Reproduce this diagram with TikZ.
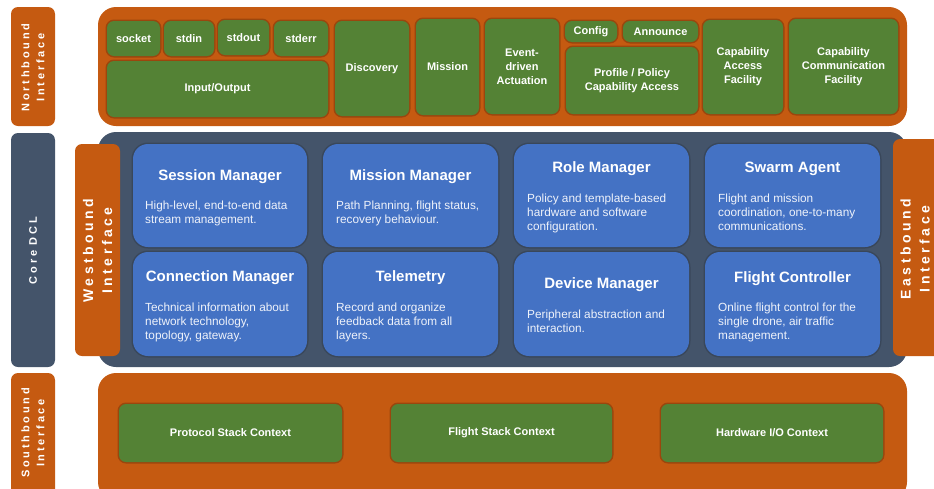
\documentclass[tikz,border=0pt]{standalone}
\usepackage{fontspec}
\setmainfont{Liberation Sans}
\newfontfamily\trackedfont[LetterSpace=25]{Liberation Sans}
\definecolor{panelorange}{HTML}{C55A11}
\definecolor{leafgreen}{HTML}{548235}
\definecolor{moduleblue}{HTML}{4472C4}
\definecolor{coreslate}{HTML}{44546A}
\definecolor{bodytext}{HTML}{EEF2FA}
\begin{document}
\begin{tikzpicture}[x=1pt,y=-1pt,
  panel/.style={fill=panelorange, rounded corners=18pt, inner sep=0pt, outer sep=0pt},
  corepanel/.style={fill=coreslate, rounded corners=18pt, inner sep=0pt, outer sep=0pt},
  tag/.style={fill=panelorange, rounded corners=7pt, inner sep=0pt, outer sep=0pt},
  coretag/.style={fill=coreslate, rounded corners=7pt, inner sep=0pt, outer sep=0pt},
  taglabel/.style={rotate=90, text=white, align=center, inner sep=0pt,
    font=\trackedfont\bfseries\fontsize{11}{15}\selectfont},
  bigtaglabel/.style={rotate=90, text=white, align=center, inner sep=0pt,
    font=\trackedfont\bfseries\fontsize{14}{19}\selectfont},
  gbox/.style={fill=leafgreen, rounded corners=7pt, text=white, align=center,
    inner sep=0pt, outer sep=0pt, font=\bfseries\fontsize{11}{14}\selectfont,
    preaction={draw=black!70!panelorange, draw opacity=0.3, line width=3pt}},
  mbox/.style={fill=moduleblue, rounded corners=15pt, inner sep=0pt, outer sep=0pt,
    preaction={draw=black, draw opacity=0.15, line width=3pt}},
  mtitle/.style={anchor=base, text=white, inner sep=0pt,
    font=\bfseries\fontsize{15}{18}\selectfont},
  % multi-line bodies are placed by the baseline of their last line
  mbody/.style={anchor=base west, text=bodytext, align=left, inner sep=0pt,
    font=\fontsize{11.8}{14}\selectfont}]
\useasboundingbox (0,0) rectangle (934,488);
\clip (0,0) rectangle (934,488);

% ---------- left-hand layer tags ----------
\node[tag, minimum width=44pt, minimum height=119pt] (ntag) at (33,66.5) {};
\node[taglabel] (ntext) at (33,67.5) {Northbound\\Interface};
\node[coretag, minimum width=44pt, minimum height=234pt] (ctag) at (33,250) {};
\node[taglabel] (ctext) at (33,250.5) {Core DCL};
\node[tag, minimum width=44pt, minimum height=127pt] (stag) at (33,436.5) {};
\node[taglabel] (stext) at (33,433) {Southbound\\Interface};

% ---------- northbound layer ----------
\node[panel, minimum width=809pt, minimum height=119pt] (north) at (502.5,66.5) {};
\node[gbox, minimum width=53pt, minimum height=35pt] (socket) at (133.5,38.5) {socket};
\node[gbox, minimum width=50pt, minimum height=35pt] (stdin) at (189,38.5) {stdin};
\node[gbox, minimum width=51pt, minimum height=35pt] (stdout) at (243.5,37.5) {stdout};
\node[gbox, minimum width=54pt, minimum height=35pt] (stderr) at (301,38.5) {stderr};
\node[gbox, minimum width=221pt, minimum height=56pt] (io) at (217.5,89) {Input/Output};
\node[gbox, minimum width=74pt, minimum height=95pt] (discovery) at (372,68.5) {Discovery};
\node[gbox, minimum width=63pt, minimum height=96pt] (mission) at (447.5,67) {Mission};
\node[gbox, minimum width=74pt, minimum height=95pt] (event) at (522,66.5) {Event-\\driven\\Actuation};
\node[gbox, minimum width=52pt, minimum height=21pt] (config) at (591,31.5) {Config};
\node[gbox, minimum width=75pt, minimum height=21pt] (announce) at (660.5,31.5) {Announce};
\node[gbox, minimum width=132pt, minimum height=67pt] (profile) at (632,80.5) {Profile / Policy\\Capability Access};
\node[gbox, minimum width=80pt, minimum height=94pt] (capaccess) at (743,67) {Capability\\Access\\Facility};
\node[gbox, minimum width=109pt, minimum height=95pt] (capcomm) at (843.5,66.5) {Capability\\Communication\\Facility};

% ---------- core DCL layer ----------
\node[corepanel, minimum width=809pt, minimum height=235pt] (core) at (502.5,249.5) {};
\node[tag, minimum width=45pt, minimum height=212pt] (wtag) at (97.5,250) {};
\node[bigtaglabel] (wtext) at (97.5,250.5) {Westbound\\Interface};
\node[tag, minimum width=52pt, minimum height=217pt] (etag) at (919,247.5) {};
\node[bigtaglabel] (etext) at (915,249) {Eastbound\\Interface};

\node[mbox, minimum width=174pt, minimum height=103pt] (session) at (220,195.5) {};
\node[mbox, minimum width=175pt, minimum height=103pt] (missionmgr) at (410.5,195.5) {};
\node[mbox, minimum width=175pt, minimum height=103pt] (role) at (601.5,195.5) {};
\node[mbox, minimum width=175pt, minimum height=103pt] (swarm) at (792.5,195.5) {};
\node[mbox, minimum width=174pt, minimum height=104pt] (connection) at (220,304) {};
\node[mbox, minimum width=175pt, minimum height=104pt] (telemetry) at (410.5,304) {};
\node[mbox, minimum width=175pt, minimum height=104pt] (device) at (601.5,304) {};
\node[mbox, minimum width=175pt, minimum height=104pt] (flight) at (792.5,304) {};

\node[mtitle] (sessiont) at (220,180) {Session Manager};
\node[mbody] (sessionb) at (145,223) {High-level, end-to-end data\\stream management.};
\node[mtitle] (missiont) at (410.5,180) {Mission Manager};
\node[mbody] (missionb) at (336,223) {Path Planning, flight status,\\recovery behaviour.};
\node[mtitle] (rolet) at (601.5,172) {Role Manager};
\node[mbody] (roleb) at (527,230) {Policy and template-based\\hardware and software\\configuration.};
\node[mtitle] (swarmt) at (792.5,172) {Swarm Agent};
\node[mbody] (swarmb) at (718,230) {Flight and mission\\coordination, one-to-many\\communications.};
\node[mtitle] (connectiont) at (220,281.5) {Connection Manager};
\node[mbody] (connectionb) at (145,339) {Technical information about\\network technology,\\topology, gateway.};
\node[mtitle] (telemetryt) at (410.5,281.5) {Telemetry};
\node[mbody] (telemetryb) at (336,339) {Record and organize\\feedback data from all\\layers.};
\node[mtitle] (devicet) at (601.5,288) {Device Manager};
\node[mbody] (deviceb) at (527,332) {Peripheral abstraction and\\interaction.};
\node[mtitle] (flightt) at (792.5,282) {Flight Controller};
\node[mbody] (flightb) at (718,339) {Online flight control for the\\single drone, air traffic\\management.};

% ---------- southbound layer ----------
\node[panel, minimum width=809pt, minimum height=127pt] (south) at (502.5,436.5) {};
\node[gbox, minimum width=223pt, minimum height=58pt] (protocol) at (230.5,433) {Protocol Stack Context};
\node[gbox, minimum width=221pt, minimum height=58pt] (flightstack) at (501.5,433) {Flight Stack Context};
\node[gbox, minimum width=222pt, minimum height=58pt] (hwio) at (772,433) {Hardware I/O Context};
\end{tikzpicture}
\end{document}
